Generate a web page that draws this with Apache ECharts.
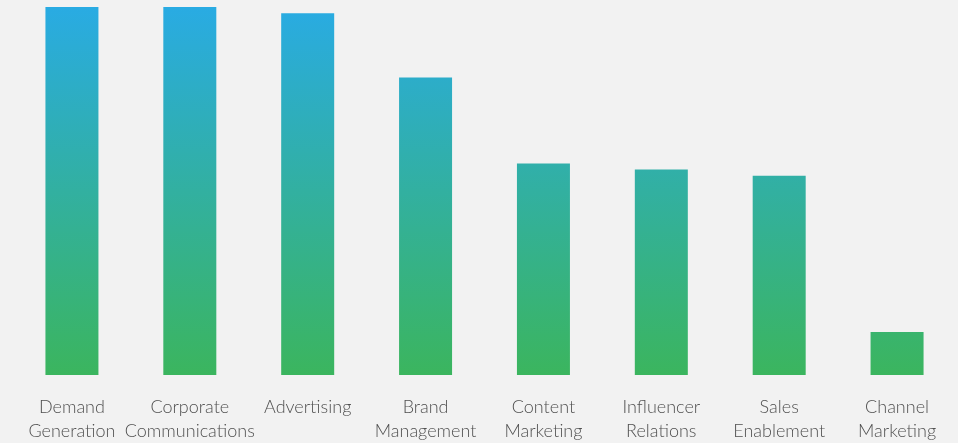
<!DOCTYPE html>
<html>
<head>
<meta charset="utf-8">
<script src="https://cdn.jsdelivr.net/npm/echarts@6/dist/echarts.min.js"></script>
<style>
html,body{margin:0;padding:0;background:#f2f2f2;}
#chart{width:958px;height:443px;}
</style>
</head>
<body>
<div id="chart"></div>
<script>
const categories = ["Demand\nGeneration", "Corporate\nCommunications", "Advertising", "Brand\nManagement", "Content\nMarketing", "Influencer\nRelations", "Sales\nEnablement", "Channel\nMarketing"];
const values = [60, 60, 59, 48.5, 34.5, 33.5, 32.5, 7];

const chart = echarts.init(document.getElementById('chart'));
chart.setOption({
  backgroundColor: '#f2f2f2',
  animation: false,
  grid: {left: 13, right: 2, top: 7, bottom: 68, containLabel: false},
  xAxis: {
    type: 'category',
    data: categories,
    axisLine: {show: false},
    axisTick: {show: false},
    axisLabel: {
      interval: 0,
      margin: 20,
      color: '#505050',
      fontFamily: 'Lato',
      fontWeight: 300,
      fontSize: 18,
      lineHeight: 24
    }
  },
  yAxis: {
    type: 'value',
    min: 0,
    max: 60,
    show: false,
    splitLine: {show: false}
  },
  series: [{
    type: 'bar',
    data: values,
    barWidth: 53,
    itemStyle: {
      color: new echarts.graphic.LinearGradient(0, 7, 0, 375, [
        {offset: 0, color: '#29abe3'},
        {offset: 1, color: '#3bb55e'}
      ], true)
    }
  }]
});
</script>
</body>
</html>
